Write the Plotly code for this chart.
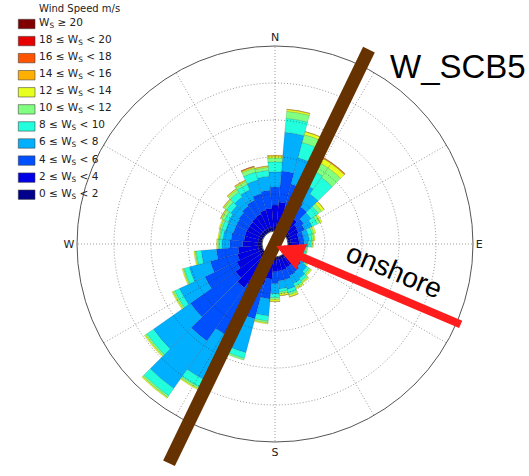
import math
import plotly.graph_objects as go

# Figure size in pixels
W, H = 529, 476

# Direction bins (degrees, clockwise from north), 10 degree sectors
DIRECTIONS = list(range(0, 360, 10))

# Speed classes, slowest first (stacking order from the centre outwards)
SPEED_LABELS = [
    "0 ≤ W<sub>S</sub> &lt; 2",
    "2 ≤ W<sub>S</sub> &lt; 4",
    "4 ≤ W<sub>S</sub> &lt; 6",
    "6 ≤ W<sub>S</sub> &lt; 8",
    "8 ≤ W<sub>S</sub> &lt; 10",
    "10 ≤ W<sub>S</sub> &lt; 12",
    "12 ≤ W<sub>S</sub> &lt; 14",
    "14 ≤ W<sub>S</sub> &lt; 16",
    "16 ≤ W<sub>S</sub> &lt; 18",
    "18 ≤ W<sub>S</sub> &lt; 20",
    "W<sub>S</sub> ≥ 20",
]
SPEED_COLORS = [
    "#00008c", "#0000e6", "#0050ff", "#00b0ff", "#22ffdd", "#80ff80",
    "#e6ff1e", "#ffaf00", "#ff5500", "#e60000", "#800000",
]

# Frequency (%) per direction for each speed class
FREQ_0_2 = [0.11, 0.14, 0.14, 0.11, 0.11, 0.11, 0.11, 0.08, 0.08, 0.08, 0.08, 0.08,
            0.08, 0.08, 0.08, 0.08, 0.08, 0.08, 0.08, 0.11, 0.11, 0.14, 0.14, 0.14,
            0.11, 0.11, 0.11, 0.11, 0.11, 0.11, 0.11, 0.11, 0.11, 0.11, 0.11, 0.11]
FREQ_2_4 = [0.59, 0.65, 0.54, 0.43, 0.38, 0.27, 0.24, 0.22, 0.22, 0.22, 0.19, 0.19,
            0.22, 0.24, 0.27, 0.27, 0.30, 0.30, 0.32, 0.49, 0.68, 0.81, 0.95, 0.81,
            0.68, 0.59, 0.54, 0.41, 0.38, 0.38, 0.38, 0.38, 0.41, 0.43, 0.49, 0.51]
FREQ_4_6 = [0.49, 0.84, 0.65, 0.43, 0.38, 0.22, 0.19, 0.14, 0.14, 0.14, 0.11, 0.11,
            0.14, 0.19, 0.22, 0.24, 0.27, 0.27, 0.32, 0.54, 0.95, 1.49, 1.76, 1.49,
            0.95, 0.76, 0.59, 0.35, 0.35, 0.32, 0.32, 0.35, 0.38, 0.41, 0.46, 0.49]
FREQ_6_8 = [0.41, 1.05, 0.73, 0.49, 0.43, 0.24, 0.22, 0.14, 0.14, 0.11, 0.08, 0.08,
            0.14, 0.19, 0.22, 0.24, 0.27, 0.22, 0.27, 0.46, 0.95, 1.35, 1.57, 1.22,
            0.76, 0.59, 0.41, 0.22, 0.22, 0.22, 0.24, 0.27, 0.30, 0.32, 0.38, 0.38]
FREQ_8_10 = [0.27, 0.38, 0.43, 0.43, 0.54, 0.24, 0.16, 0.11, 0.08, 0.08, 0.05, 0.05,
             0.05, 0.08, 0.08, 0.08, 0.11, 0.08, 0.11, 0.14, 0.16, 0.24, 0.24, 0.22,
             0.14, 0.14, 0.14, 0.08, 0.08, 0.11, 0.11, 0.14, 0.16, 0.16, 0.22, 0.16]
FREQ_10_12 = [0.11, 0.19, 0.22, 0.27, 0.32, 0.11, 0.08, 0.05, 0.05, 0.03, 0.03, 0.03,
              0.03, 0.05, 0.05, 0.05, 0.05, 0.05, 0.05, 0.05, 0.05, 0.05, 0.05, 0.05,
              0.05, 0.03, 0.03, 0.03, 0.03, 0.05, 0.08, 0.08, 0.08, 0.08, 0.11, 0.08]
FREQ_12_14 = [0.05, 0.05, 0.08, 0.14, 0.14, 0.08, 0.05, 0.05, 0.03, 0.03, 0.00, 0.00,
              0.03, 0.03, 0.03, 0.03, 0.05, 0.05, 0.05, 0.03, 0.00, 0.03, 0.03, 0.03,
              0.03, 0.03, 0.03, 0.03, 0.03, 0.03, 0.03, 0.03, 0.03, 0.03, 0.03, 0.03]
FREQ_14_16 = [0.02, 0.01, 0.01, 0.02, 0.02, 0.01, 0.00, 0.00, 0.00, 0.00, 0.00, 0.00,
              0.00, 0.00, 0.00, 0.00, 0.01, 0.01, 0.01, 0.00, 0.00, 0.00, 0.00, 0.00,
              0.00, 0.00, 0.00, 0.00, 0.00, 0.00, 0.01, 0.01, 0.01, 0.02, 0.02, 0.01]
FREQ_16_18 = [0.00, 0.00, 0.00, 0.01, 0.01, 0.00, 0.00, 0.00, 0.00, 0.00, 0.00, 0.00,
              0.00, 0.00, 0.00, 0.00, 0.00, 0.00, 0.00, 0.00, 0.00, 0.00, 0.00, 0.00,
              0.00, 0.00, 0.00, 0.00, 0.00, 0.00, 0.00, 0.00, 0.00, 0.00, 0.01, 0.00]
FREQ_18_20 = [0.00, 0.00, 0.00, 0.00, 0.00, 0.00, 0.00, 0.00, 0.00, 0.00, 0.00, 0.00,
              0.00, 0.00, 0.00, 0.00, 0.00, 0.00, 0.00, 0.00, 0.00, 0.00, 0.00, 0.00,
              0.00, 0.00, 0.00, 0.00, 0.00, 0.00, 0.00, 0.00, 0.00, 0.00, 0.00, 0.00]
FREQ_GE_20 = [0.00, 0.00, 0.00, 0.00, 0.00, 0.00, 0.00, 0.00, 0.00, 0.00, 0.00, 0.00,
              0.00, 0.00, 0.00, 0.00, 0.00, 0.00, 0.00, 0.00, 0.00, 0.00, 0.00, 0.00,
              0.00, 0.00, 0.00, 0.00, 0.00, 0.00, 0.00, 0.00, 0.00, 0.00, 0.00, 0.00]

SPEED_FREQS = [FREQ_0_2, FREQ_2_4, FREQ_4_6, FREQ_6_8, FREQ_8_10, FREQ_10_12,
               FREQ_12_14, FREQ_14_16, FREQ_16_18, FREQ_18_20, FREQ_GE_20]

# Frequency rings and compass labels
RING_VALUES = [1, 2, 3, 4]
R_MAX = 5
SPOKE_ANGLES = list(range(0, 360, 30))
COMPASS_VALS = [0, 90, 180, 270]
COMPASS_TEXT = ["N", "E", "S", "W"]

STATION = "W_SCB5"
COAST_BEARING = 25.8      # orientation of the coastline
ONSHORE_BEARING = 113.4   # direction the onshore wind comes from

# Placement of the rose on the page (pixels)
CX, CY, RAD = 275, 244, 198
HOLE_PX = 13


def px(x):
    return x / W


def py(y):
    return 1 - y / H


def polar_point(bearing, dist):
    a = math.radians(bearing)
    return CX + dist * math.sin(a), CY - dist * math.cos(a)


fig = go.Figure()

for label, color, freq in zip(SPEED_LABELS, SPEED_COLORS, SPEED_FREQS):
    fig.add_trace(go.Barpolar(
        r=freq, theta=DIRECTIONS, width=[10] * len(DIRECTIONS), name=label,
        marker=dict(color=color, line=dict(color="rgba(0,0,0,0.22)", width=0.6)),
        showlegend=False, hoverinfo="skip",
    ))

# Fine dotted grid drawn over the bars
GRID_COLOR = "rgba(30,30,30,0.45)"
GRID_DASH = "1px,2px"
ring_theta = list(range(0, 362, 2))
for rv in RING_VALUES:
    fig.add_trace(go.Scatterpolar(
        r=[rv] * len(ring_theta), theta=ring_theta, mode="lines",
        line=dict(color=GRID_COLOR, width=1, dash=GRID_DASH),
        hoverinfo="skip", showlegend=False,
    ))
spoke_r, spoke_t = [], []
for a in SPOKE_ANGLES:
    spoke_r += [0, R_MAX, None]
    spoke_t += [a, a, None]
fig.add_trace(go.Scatterpolar(
    r=spoke_r, theta=spoke_t, mode="lines",
    line=dict(color=GRID_COLOR, width=1, dash=GRID_DASH),
    hoverinfo="skip", showlegend=False,
))

fig.update_layout(
    width=W, height=H,
    margin=dict(l=0, r=0, t=0, b=0),
    paper_bgcolor="white",
    showlegend=False,
    polar=dict(
        domain=dict(x=[px(CX - RAD), px(CX + RAD)], y=[py(CY + RAD), py(CY - RAD)]),
        bgcolor="white",
        hole=HOLE_PX / RAD,
        barmode="stack",
        radialaxis=dict(range=[0, R_MAX], showgrid=False, showline=False,
                        showticklabels=False, ticks=""),
        angularaxis=dict(direction="clockwise", rotation=90, showgrid=False,
                         showline=True, linecolor="#555", linewidth=1,
                         tickmode="array", tickvals=COMPASS_VALS, ticktext=COMPASS_TEXT,
                         ticks="", tickfont=dict(family="DejaVu Sans", size=11, color="#222")),
    ),
)

# Legend: coloured squares and labels, fastest class on top
shapes = []
annotations = []
annotations.append(dict(
    x=px(36.5), y=py(8), xref="paper", yref="paper", xanchor="left", yanchor="middle",
    text="Wind Speed m/s", showarrow=False,
    font=dict(family="DejaVu Sans", size=10, color="#222"),
))
for k, (label, color) in enumerate(zip(SPEED_LABELS[::-1], SPEED_COLORS[::-1])):
    yc = 24 + 17.07 * k
    shapes.append(dict(
        type="rect", xref="paper", yref="paper",
        x0=px(18.3), x1=px(35), y0=py(yc + 4.7), y1=py(yc - 4.7),
        fillcolor=color, line=dict(color="rgba(60,60,60,0.55)", width=1),
    ))
    annotations.append(dict(
        x=px(36.5), y=py(yc - 1), xref="paper", yref="paper", xanchor="left",
        yanchor="middle", text=label, showarrow=False,
        font=dict(family="DejaVu Sans", size=10.5, color="#222"),
    ))

# Coastline through the site
x0, y0 = polar_point(COAST_BEARING, 1.09 * RAD)
x1, y1 = polar_point(COAST_BEARING + 180, 1.23 * RAD)
shapes.append(dict(
    type="line", xref="paper", yref="paper",
    x0=px(x0), y0=py(y0), x1=px(x1), y1=py(y1),
    line=dict(color="#663300", width=13), layer="above",
))

# Onshore arrow pointing at the site
tx, ty = polar_point(ONSHORE_BEARING, 1.03 * RAD)
annotations.append(dict(
    x=px(CX + 1), y=py(CY + 2), xref="paper", yref="paper",
    ax=tx - (CX + 1), ay=ty - (CY + 2), axref="pixel", ayref="pixel",
    text="", showarrow=True, arrowhead=2, arrowsize=0.7, arrowwidth=8,
    arrowcolor="#ff1c1c", standoff=0,
))
annotations.append(dict(
    x=px(394), y=py(270), xref="paper", yref="paper", xanchor="center", yanchor="middle",
    text="onshore", textangle=23, showarrow=False,
    font=dict(family="Liberation Sans", size=28, color="black"),
))
annotations.append(dict(
    x=px(388), y=py(67), xref="paper", yref="paper", xanchor="left", yanchor="middle",
    text=STATION, showarrow=False,
    font=dict(family="Liberation Sans", size=33, color="black"),
))

fig.update_layout(shapes=shapes, annotations=annotations)
fig.write_html("out.html")
